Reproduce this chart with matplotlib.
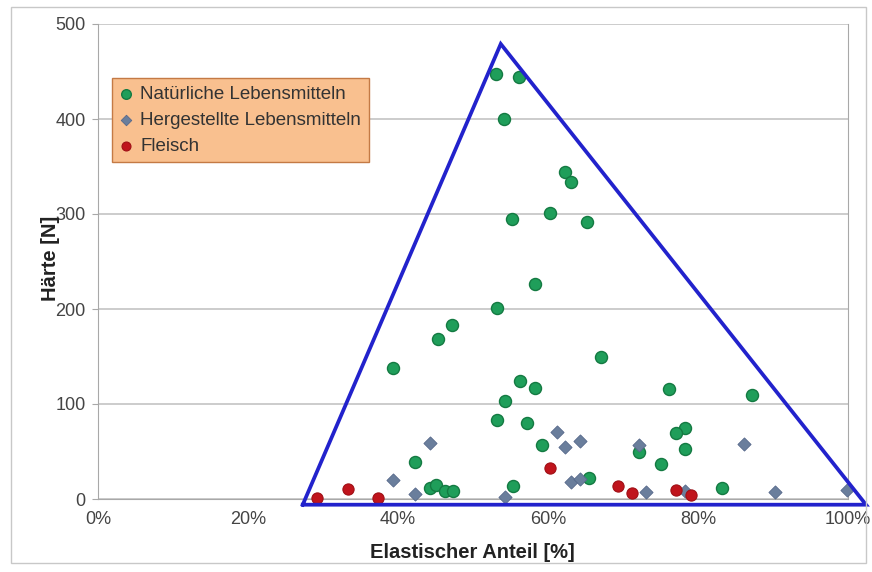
import matplotlib.pyplot as plt
from matplotlib.patches import Rectangle
from matplotlib.ticker import FuncFormatter

plt.rcParams['font.family'] = ['Liberation Sans', 'DejaVu Sans']

## Natürliche Lebensmitteln: elastischer Anteil [%], Härte [N]
nat_x = [53.1, 56.1, 54.1, 62.2, 63.1, 55.2, 60.2, 65.2, 58.3, 53.2, 47.2, 45.3,
         39.3, 56.3, 58.3, 54.2, 53.2, 57.2, 59.2, 42.3, 55.3, 44.2, 45.0, 46.3,
         47.3, 67.1, 76.1, 78.2, 77.1, 78.2, 72.1, 75.1, 65.4, 83.2, 87.2]
nat_y = [447, 444, 400, 344, 334, 295, 301, 292, 226, 201, 183, 168,
         138, 124, 117, 103, 83, 80, 57, 39, 14, 12, 15, 8,
         8, 150, 116, 75, 70, 53, 49, 37, 22, 12, 110]

## Hergestellte Lebensmitteln
her_x = [44.3, 39.3, 42.3, 54.2, 61.2, 62.2, 64.3, 63.1, 64.2, 72.1, 73.1, 78.3,
         86.1, 90.2, 99.9]
her_y = [59, 20, 5, 2, 71, 55, 61, 18, 21, 57, 7, 8, 58, 7, 9]

## Fleisch
fl_x = [29.2, 33.3, 37.3, 60.2, 69.3, 71.2, 77.1, 79.1]
fl_y = [1, 11, 1, 33, 14, 6, 10, 4]

## Dreieck (Umrandung)
tri_x = [27.3, 53.7, 102.4, 27.3]
tri_y = [-6, 479, -6, -6]

x_ticks = [0, 20, 40, 60, 80, 100]
y_ticks = [0, 100, 200, 300, 400, 500]

fig = plt.figure(figsize=(8.72, 5.72), dpi=100)
ax = fig.add_axes([98/872, 1-499/572, 750/872, 475/572])

## Rahmen um das Diagramm
fig.patches.append(Rectangle((11/872, 1-563/572), 855/872, 556/572,
                             transform=fig.transFigure, fill=False,
                             edgecolor='#c8c8c8', lw=1.0))

ax.set_xlim(0, 100)
ax.set_ylim(0, 500)
ax.set_xticks(x_ticks)
ax.set_yticks(y_ticks)
ax.xaxis.set_major_formatter(FuncFormatter(lambda v, p: f'{v:.0f}%'))
ax.yaxis.grid(True, color='#c8c8c8', lw=1.3)
ax.set_axisbelow(True)
ax.spines['top'].set_visible(False)
for s in ['left', 'bottom', 'right']:
    ax.spines[s].set_color('#a8a8a8')
ax.tick_params(axis='y', length=4, color='#a8a8a8', labelsize=13, labelcolor='#444444', pad=5)
ax.tick_params(axis='x', length=0, labelsize=13, labelcolor='#444444', pad=9)

ax.scatter(nat_x, nat_y, s=75, marker='o', color='#1f9e5a', edgecolor='#147a42',
           lw=1.0, label='Natürliche Lebensmitteln', zorder=3, clip_on=False)
ax.scatter(her_x, her_y, s=45, marker='D', color='#6a7e9c', edgecolor='#56688a',
           lw=0.6, label='Hergestellte Lebensmitteln', zorder=3, clip_on=False)
ax.scatter(fl_x, fl_y, s=65, marker='o', color='#c0141c', edgecolor='#a01016',
           lw=0.8, label='Fleisch', zorder=3, clip_on=False)

ax.plot(tri_x, tri_y, color='#2222cc', lw=2.7, zorder=4, clip_on=False,
        solid_joinstyle='miter')

ax.set_xlabel('Elastischer Anteil [%]', fontsize=14.5, fontweight='bold', color='#222222')
ax.set_ylabel('Härte [N]', fontsize=14.5, fontweight='bold', color='#222222')
ax.xaxis.set_label_coords(0.499, -0.092)
ax.yaxis.set_label_coords(-0.050, 0.507)

leg = ax.legend(loc='upper left', bbox_to_anchor=(14/750, 1-54/475), fontsize=13.5,
                frameon=True, fancybox=False, handletextpad=0.4, handlelength=0.7,
                borderpad=0.4, labelspacing=0.48, borderaxespad=0, markerscale=0.8)
leg.get_frame().set_facecolor('#f9c08f')
leg.get_frame().set_edgecolor('#c47a45')
leg.get_frame().set_alpha(1)
for t in leg.get_texts():
    t.set_color('#333333')

fig.savefig('out.png', dpi=100)
